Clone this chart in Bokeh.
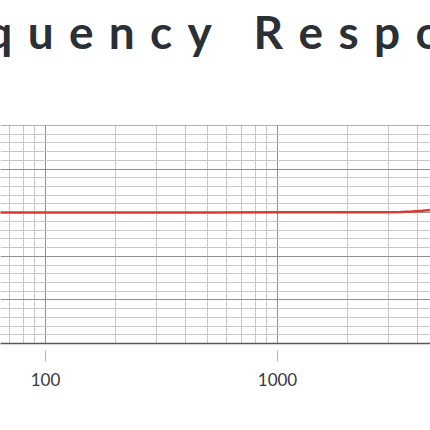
from bokeh.plotting import figure
from bokeh.models import Range1d, FixedTicker, Span, Title
from bokeh.embed import file_html
from bokeh.resources import INLINE

# Measured response (Hz, dB)
freq_hz = [60, 100, 200, 500, 1000, 2000, 3000, 3400, 3800, 4200, 4600, 5000]
level_db = [0.05, 0.05, 0.05, 0.05, 0.1, 0.1, 0.1, 0.15, 0.3, 0.45, 0.65, 0.9]

# Grid and tick layout
x_major = [100, 1000]
x_minor = [60, 70, 80, 90, 200, 300, 400, 500, 600, 700, 800, 900,
           2000, 3000, 4000, 5000]
y_major = [-30, -20, -10, 0, 10, 20]
y_minor = list(range(-30, 21, 2))
x_labels = {100: "100", 1000: "1000"}
title_text = "Frequency Response"

p = figure(width=430, height=430, x_axis_type="log",
           x_range=Range1d(63.98, 4565), y_range=Range1d(-30, 20),
           y_axis_location=None, toolbar_location=None,
           output_backend="svg", min_border_left=0, min_border_right=0,
           min_border_top=125, min_border_bottom=87)
p.outline_line_color = None
p.background_fill_color = "white"
p.border_fill_color = "white"

# blank panel between the heading and the chart frame
p.add_layout(Title(text=" ", standoff=53, text_font="Lato",
                   text_font_size="10px", text_color="white"), "above")

# heading with wide letter spacing, stacked above the blank panel
spaced = "\u2004".join(title_text)
p.add_layout(Title(text=spaced, align="center", offset=-23, standoff=0,
                   text_font="Lato", text_font_style="bold",
                   text_font_size="46px", text_color="#2b2f36"), "above")

# grid
p.xgrid.ticker = FixedTicker(ticks=x_major, minor_ticks=x_minor)
p.ygrid.ticker = FixedTicker(ticks=y_major, minor_ticks=y_minor)
for g in (p.xgrid, p.ygrid):
    g.grid_line_color = "#8f8f8f"
    g.grid_line_width = 1
    g.minor_grid_line_color = "#c8c8c8"
    g.minor_grid_line_width = 1

# top border of the chart frame
p.add_layout(Span(location=20, dimension="width", line_color="#666666", line_width=1))

# x axis
ax = p.xaxis[0]
ax.ticker = FixedTicker(ticks=x_major, minor_ticks=[])
ax.major_label_overrides = x_labels
ax.axis_line_color = "#5a5a5a"
ax.axis_line_width = 1.5
ax.major_tick_line_color = "#b5b5b5"
ax.major_tick_in = -7
ax.major_tick_out = 18
ax.minor_tick_line_color = None
ax.major_label_text_font = "Lato"
ax.major_label_text_font_size = "17px"
ax.major_label_text_color = "#3a3a3a"
ax.major_label_standoff = 11

# response curve
p.line(freq_hz, level_db, line_color="#e0382d", line_width=2.5)

open("out.html", "w").write(file_html(p, INLINE))
